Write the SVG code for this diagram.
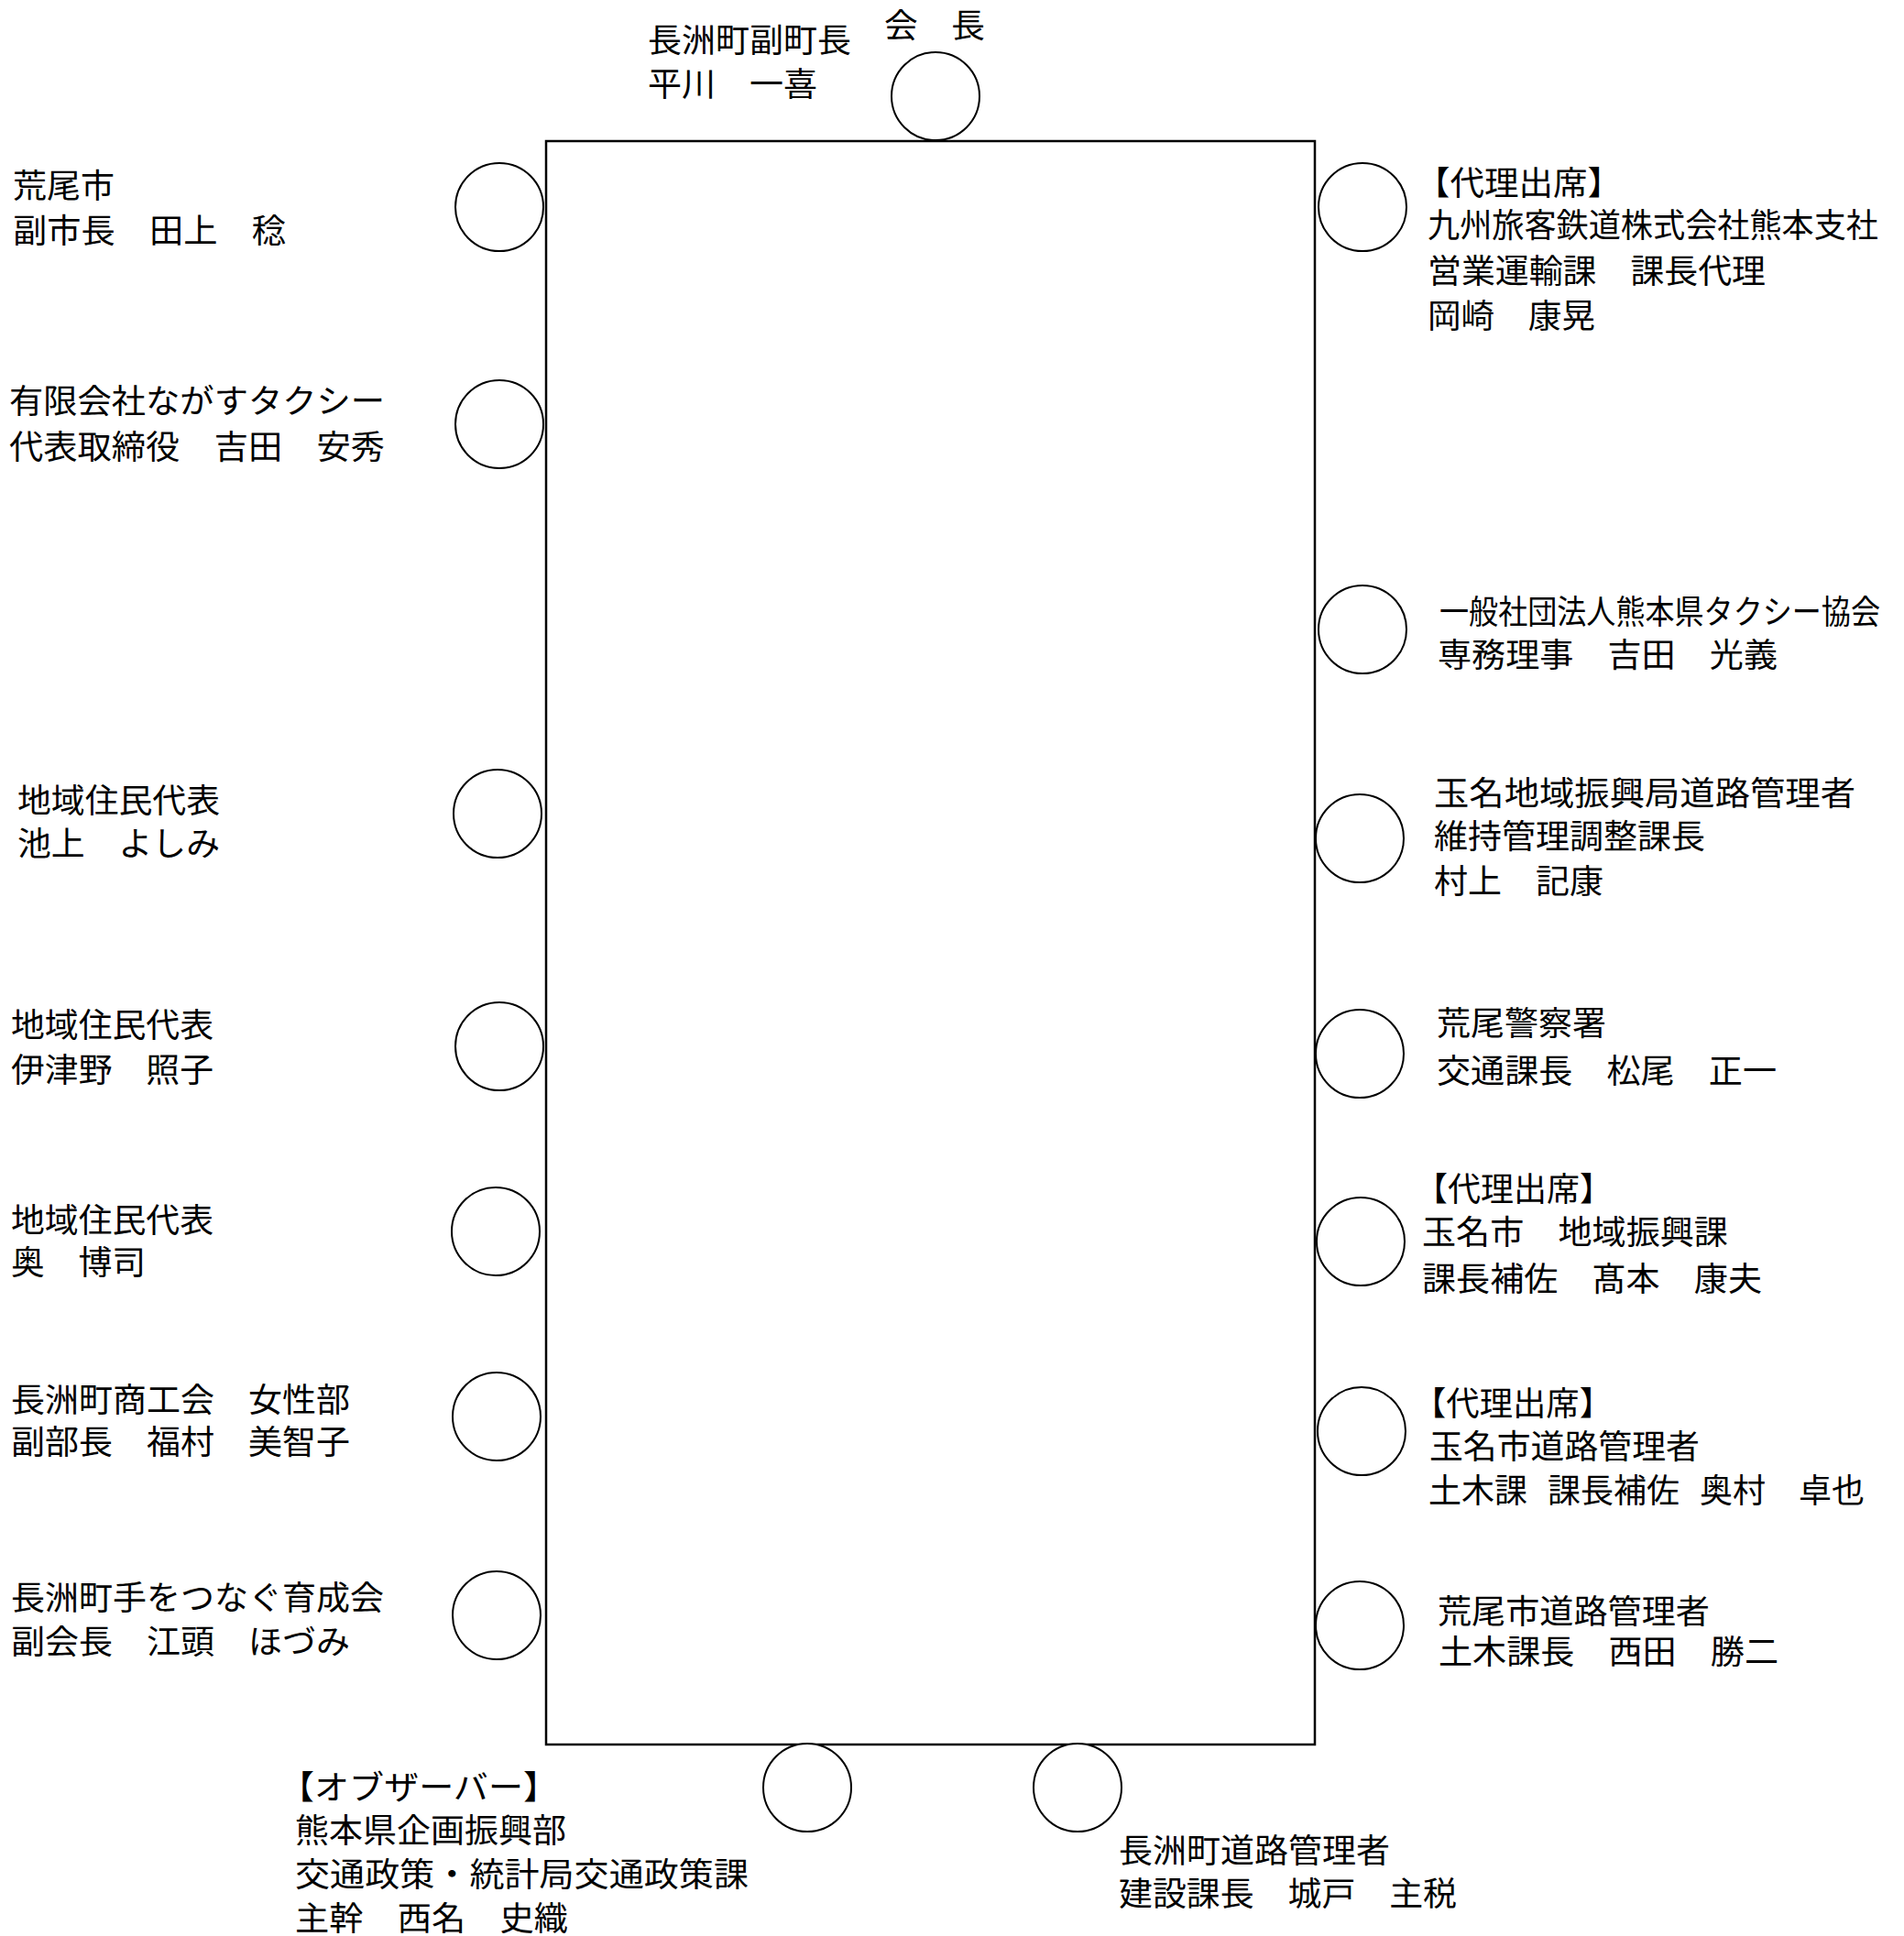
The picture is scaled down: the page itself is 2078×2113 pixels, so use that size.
<svg xmlns="http://www.w3.org/2000/svg" width="2078" height="2113" viewBox="0 0 2078 2113">
<style>
.bg{fill:#ffffff}
.table{fill:#ffffff;stroke:#000000;stroke-width:2.5}
.seat{fill:#ffffff;stroke:#000000;stroke-width:2}
text{font-family:"Noto Sans CJK JP","Noto Sans CJK SC",sans-serif;font-size:36px;fill:#000000;font-weight:400}
</style>
<rect class="bg" x="0" y="0" width="2078" height="2113"/>
<g id="table"><rect class="table" x="596" y="154" width="839" height="1750"/></g>

<g id="chair">
<circle class="seat" cx="1021" cy="105" r="48"/>
<text x="965" y="41" textLength="110" lengthAdjust="spacingAndGlyphs">会　長</text>
<text x="707" y="57" textLength="222" lengthAdjust="spacingAndGlyphs">長洲町副町長</text>
<text x="707" y="105" textLength="185" lengthAdjust="spacingAndGlyphs">平川　一喜</text>
</g>

<g id="arao-city">
<circle class="seat" cx="545" cy="226" r="48"/>
<text x="14" y="216" textLength="111" lengthAdjust="spacingAndGlyphs">荒尾市</text>
<text x="14" y="265" textLength="298" lengthAdjust="spacingAndGlyphs">副市長　田上　稔</text>
</g>

<g id="nagasu-taxi">
<circle class="seat" cx="545" cy="463" r="48"/>
<text x="10" y="451" textLength="410" lengthAdjust="spacingAndGlyphs">有限会社ながすタクシー</text>
<text x="10" y="501" textLength="410" lengthAdjust="spacingAndGlyphs">代表取締役　吉田　安秀</text>
</g>

<g id="resident-1">
<circle class="seat" cx="543" cy="888" r="48"/>
<text x="19" y="887" textLength="221" lengthAdjust="spacingAndGlyphs">地域住民代表</text>
<text x="19" y="934" textLength="221" lengthAdjust="spacingAndGlyphs">池上　よしみ</text>
</g>

<g id="resident-2">
<circle class="seat" cx="545" cy="1142" r="48"/>
<text x="12" y="1132" textLength="221" lengthAdjust="spacingAndGlyphs">地域住民代表</text>
<text x="12" y="1181" textLength="221" lengthAdjust="spacingAndGlyphs">伊津野　照子</text>
</g>

<g id="resident-3">
<circle class="seat" cx="541" cy="1344" r="48"/>
<text x="12" y="1345" textLength="221" lengthAdjust="spacingAndGlyphs">地域住民代表</text>
<text x="12" y="1391" textLength="147" lengthAdjust="spacingAndGlyphs">奥　博司</text>
</g>

<g id="chamber-women">
<circle class="seat" cx="542" cy="1546" r="48"/>
<text x="12" y="1541" textLength="370" lengthAdjust="spacingAndGlyphs">長洲町商工会　女性部</text>
<text x="12" y="1587" textLength="370" lengthAdjust="spacingAndGlyphs">副部長　福村　美智子</text>
</g>

<g id="ikusei-kai">
<circle class="seat" cx="542" cy="1763" r="48"/>
<text x="12" y="1757" textLength="407" lengthAdjust="spacingAndGlyphs">長洲町手をつなぐ育成会</text>
<text x="12" y="1805" textLength="370" lengthAdjust="spacingAndGlyphs">副会長　江頭　ほづみ</text>
</g>

<g id="jr-kyushu">
<circle class="seat" cx="1487" cy="226" r="48"/>
<text x="1545" y="213" textLength="225" lengthAdjust="spacingAndGlyphs">【代理出席】</text>
<text x="1558" y="259" textLength="492" lengthAdjust="spacingAndGlyphs">九州旅客鉄道株式会社熊本支社</text>
<text x="1558" y="309" textLength="369" lengthAdjust="spacingAndGlyphs">営業運輸課　課長代理</text>
<text x="1558" y="358" textLength="183" lengthAdjust="spacingAndGlyphs">岡崎　康晃</text>
</g>

<g id="taxi-association">
<circle class="seat" cx="1487" cy="687" r="48"/>
<text x="1571" y="681" textLength="481" lengthAdjust="spacingAndGlyphs">一般社団法人熊本県タクシー協会</text>
<text x="1569" y="728" textLength="371" lengthAdjust="spacingAndGlyphs">専務理事　吉田　光義</text>
</g>

<g id="tamana-road-bureau">
<circle class="seat" cx="1484" cy="915" r="48"/>
<text x="1565" y="879" textLength="460" lengthAdjust="spacingAndGlyphs">玉名地域振興局道路管理者</text>
<text x="1565" y="926" textLength="296" lengthAdjust="spacingAndGlyphs">維持管理調整課長</text>
<text x="1565" y="975" textLength="185" lengthAdjust="spacingAndGlyphs">村上　記康</text>
</g>

<g id="arao-police">
<circle class="seat" cx="1484" cy="1150" r="48"/>
<text x="1568" y="1130" textLength="185" lengthAdjust="spacingAndGlyphs">荒尾警察署</text>
<text x="1568" y="1182" textLength="371" lengthAdjust="spacingAndGlyphs">交通課長　松尾　正一</text>
</g>

<g id="tamana-city">
<circle class="seat" cx="1485" cy="1355" r="48"/>
<text x="1544" y="1311" textLength="216" lengthAdjust="spacingAndGlyphs">【代理出席】</text>
<text x="1552" y="1358" textLength="334" lengthAdjust="spacingAndGlyphs">玉名市　地域振興課</text>
<text x="1552" y="1409" textLength="371" lengthAdjust="spacingAndGlyphs">課長補佐　髙本　康夫</text>
</g>

<g id="tamana-city-road">
<circle class="seat" cx="1486" cy="1562" r="48"/>
<text x="1542" y="1545" textLength="218" lengthAdjust="spacingAndGlyphs">【代理出席】</text>
<text x="1560" y="1592" textLength="295" lengthAdjust="spacingAndGlyphs">玉名市道路管理者</text>
<text y="1640"><tspan x="1559">土木課</tspan><tspan x="1689">課長補佐</tspan><tspan x="1855">奥村　卓也</tspan></text>
</g>

<g id="arao-city-road">
<circle class="seat" cx="1484" cy="1774" r="48"/>
<text x="1569" y="1772" textLength="297" lengthAdjust="spacingAndGlyphs">荒尾市道路管理者</text>
<text x="1570" y="1816" textLength="371" lengthAdjust="spacingAndGlyphs">土木課長　西田　勝二</text>
</g>

<g id="observer-kumamoto">
<circle class="seat" cx="881" cy="1951" r="48"/>
<text x="305" y="1964" textLength="304" lengthAdjust="spacingAndGlyphs">【オブザーバー】</text>
<text x="322" y="2011" textLength="296" lengthAdjust="spacingAndGlyphs">熊本県企画振興部</text>
<text x="322" y="2059" textLength="495" lengthAdjust="spacingAndGlyphs">交通政策・統計局交通政策課</text>
<text x="322" y="2107" textLength="298" lengthAdjust="spacingAndGlyphs">主幹　西名　史織</text>
</g>

<g id="nagasu-road">
<circle class="seat" cx="1176" cy="1951" r="48"/>
<text x="1221" y="2033" textLength="296" lengthAdjust="spacingAndGlyphs">長洲町道路管理者</text>
<text x="1221" y="2080" textLength="369" lengthAdjust="spacingAndGlyphs">建設課長　城戸　主税</text>
</g>
</svg>
